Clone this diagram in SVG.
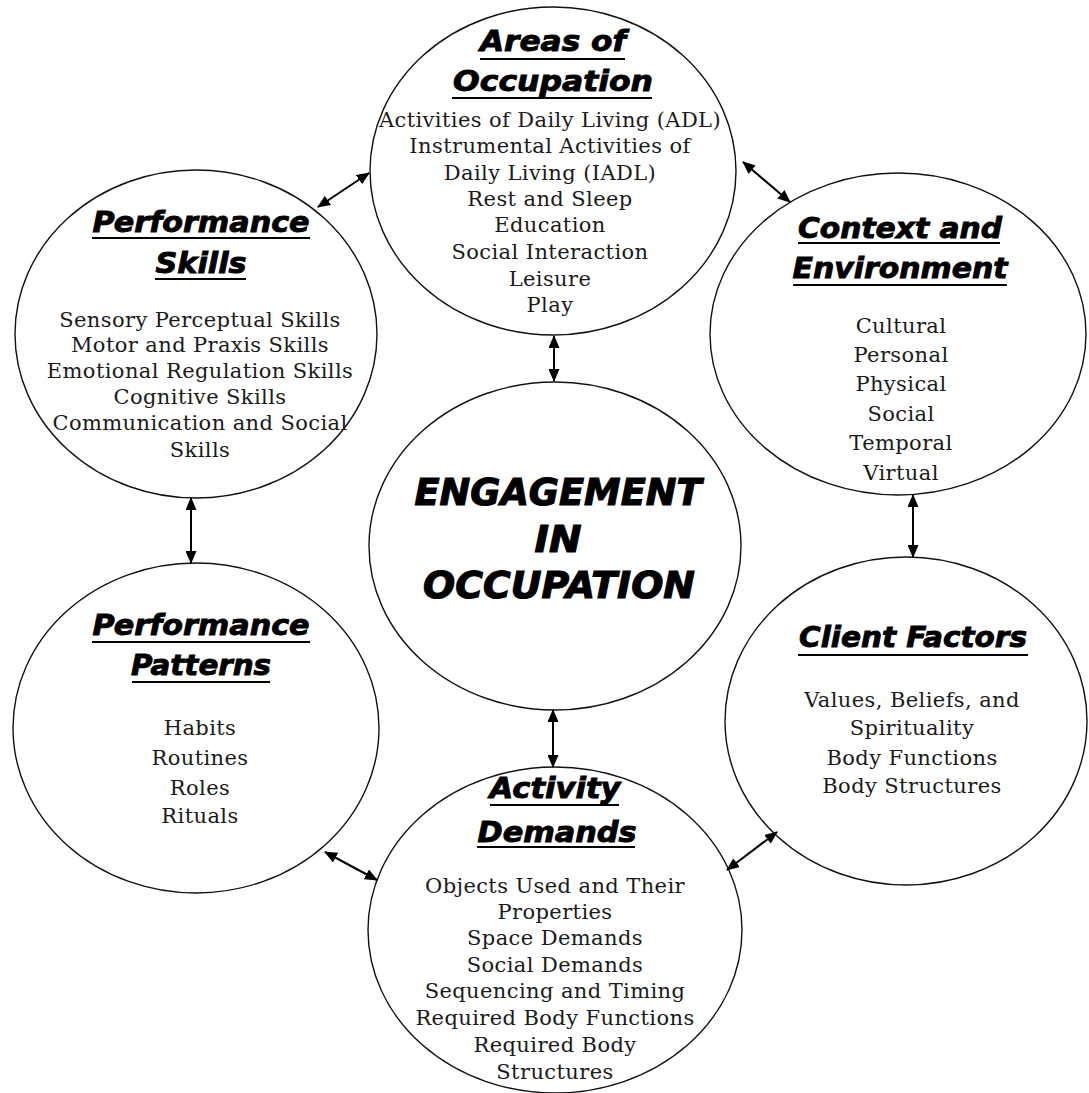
<svg xmlns="http://www.w3.org/2000/svg" width="1089" height="1093" viewBox="0 0 1089 1093">
  <defs>
    <marker id="tip" viewBox="0 0 13 11" refX="12" refY="5.5" markerWidth="13" markerHeight="11" markerUnits="userSpaceOnUse" orient="auto-start-reverse">
      <path d="M0,0 L13,5.5 L0,11 z" fill="#000"/>
    </marker>
    <style>
      .ring { fill: #fff; stroke: #111; stroke-width: 1.4; }
      .head { font-family: "DejaVu Sans", "Liberation Sans", sans-serif; font-weight: bold; font-style: italic; font-size: 28px; fill: #000; stroke: #000; stroke-width: 0.9; text-anchor: middle; }
      .core { font-family: "DejaVu Sans", "Liberation Sans", sans-serif; font-weight: bold; font-style: italic; font-size: 38px; fill: #000; stroke: #000; stroke-width: 1.2; text-anchor: middle; }
      .rule { stroke: #000; stroke-width: 2; }
      .item { font-family: "DejaVu Serif", "Liberation Serif", serif; font-size: 21px; letter-spacing: 0.4px; fill: #1a1a1a; text-anchor: middle; }
      .link { stroke: #000; stroke-width: 2; fill: none; marker-start: url(#tip); marker-end: url(#tip); }
    </style>
  </defs>

  <rect width="1089" height="1093" fill="#fff"/>

  <!-- Areas of Occupation -->
  <g id="areas-of-occupation">
    <ellipse class="ring" cx="553" cy="171" rx="183" ry="164"/>
    <text class="head" x="553" y="51" textLength="146" lengthAdjust="spacingAndGlyphs">Areas of</text>
    <line class="rule" x1="480" y1="59" x2="625" y2="59"/>
    <text class="head" x="553" y="91" textLength="200" lengthAdjust="spacingAndGlyphs">Occupation</text>
    <line class="rule" x1="452" y1="98" x2="652" y2="98"/>
    <text class="item" x="550" y="127">Activities of Daily Living (ADL)</text>
    <text class="item" x="550" y="153">Instrumental Activities of</text>
    <text class="item" x="550" y="180">Daily Living (IADL)</text>
    <text class="item" x="550" y="206">Rest and Sleep</text>
    <text class="item" x="550" y="232">Education</text>
    <text class="item" x="550" y="259">Social Interaction</text>
    <text class="item" x="550" y="286">Leisure</text>
    <text class="item" x="550" y="312">Play</text>
  </g>

  <!-- Performance Skills -->
  <g id="performance-skills">
    <ellipse class="ring" cx="196" cy="334" rx="181" ry="164"/>
    <text class="head" x="201" y="232" textLength="217" lengthAdjust="spacingAndGlyphs">Performance</text>
    <line class="rule" x1="92" y1="238" x2="310" y2="238"/>
    <text class="head" x="201" y="273" textLength="91" lengthAdjust="spacingAndGlyphs">Skills</text>
    <line class="rule" x1="155" y1="279" x2="246" y2="279"/>
    <text class="item" x="200" y="327">Sensory Perceptual Skills</text>
    <text class="item" x="200" y="352">Motor and Praxis Skills</text>
    <text class="item" x="200" y="378">Emotional Regulation Skills</text>
    <text class="item" x="200" y="404">Cognitive Skills</text>
    <text class="item" x="200" y="430">Communication and Social</text>
    <text class="item" x="200" y="457">Skills</text>
  </g>

  <!-- Context and Environment -->
  <g id="context-and-environment">
    <ellipse class="ring" cx="898" cy="334" rx="188" ry="161"/>
    <text class="head" x="900" y="238" textLength="204" lengthAdjust="spacingAndGlyphs">Context and</text>
    <line class="rule" x1="798" y1="243" x2="1000" y2="243"/>
    <text class="head" x="900" y="278" textLength="215" lengthAdjust="spacingAndGlyphs">Environment</text>
    <line class="rule" x1="793" y1="285" x2="1007" y2="285"/>
    <text class="item" x="901" y="333">Cultural</text>
    <text class="item" x="901" y="362">Personal</text>
    <text class="item" x="901" y="391">Physical</text>
    <text class="item" x="901" y="421">Social</text>
    <text class="item" x="901" y="450">Temporal</text>
    <text class="item" x="901" y="480">Virtual</text>
  </g>

  <!-- Engagement in Occupation -->
  <g id="engagement-in-occupation">
    <ellipse class="ring" cx="555" cy="546" rx="186" ry="164"/>
    <text class="core" x="558" y="505" textLength="287" lengthAdjust="spacingAndGlyphs">ENGAGEMENT</text>
    <text class="core" x="558" y="552" textLength="47" lengthAdjust="spacingAndGlyphs">IN</text>
    <text class="core" x="559" y="598" textLength="272" lengthAdjust="spacingAndGlyphs">OCCUPATION</text>
  </g>

  <!-- Performance Patterns -->
  <g id="performance-patterns">
    <ellipse class="ring" cx="196" cy="728" rx="183" ry="165"/>
    <text class="head" x="201" y="635" textLength="217" lengthAdjust="spacingAndGlyphs">Performance</text>
    <line class="rule" x1="92" y1="642" x2="310" y2="642"/>
    <text class="head" x="201" y="675" textLength="140" lengthAdjust="spacingAndGlyphs">Patterns</text>
    <line class="rule" x1="132" y1="682" x2="270" y2="682"/>
    <text class="item" x="200" y="735">Habits</text>
    <text class="item" x="200" y="765">Routines</text>
    <text class="item" x="200" y="795">Roles</text>
    <text class="item" x="200" y="823">Rituals</text>
  </g>

  <!-- Client Factors -->
  <g id="client-factors">
    <ellipse class="ring" cx="906" cy="721" rx="181" ry="164"/>
    <text class="head" x="913" y="647" textLength="228" lengthAdjust="spacingAndGlyphs">Client Factors</text>
    <line class="rule" x1="798" y1="655" x2="1028" y2="655"/>
    <text class="item" x="912" y="707">Values, Beliefs, and</text>
    <text class="item" x="912" y="735">Spirituality</text>
    <text class="item" x="912" y="765">Body Functions</text>
    <text class="item" x="912" y="793">Body Structures</text>
  </g>

  <!-- Activity Demands -->
  <g id="activity-demands">
    <ellipse class="ring" cx="555" cy="930" rx="187" ry="163"/>
    <text class="head" x="555" y="798" textLength="131" lengthAdjust="spacingAndGlyphs">Activity</text>
    <line class="rule" x1="490" y1="805" x2="619" y2="805"/>
    <text class="head" x="557" y="842" textLength="159" lengthAdjust="spacingAndGlyphs">Demands</text>
    <line class="rule" x1="477" y1="847" x2="635" y2="847"/>
    <text class="item" x="555" y="893">Objects Used and Their</text>
    <text class="item" x="555" y="919">Properties</text>
    <text class="item" x="555" y="945">Space Demands</text>
    <text class="item" x="555" y="972">Social Demands</text>
    <text class="item" x="555" y="998">Sequencing and Timing</text>
    <text class="item" x="555" y="1025">Required Body Functions</text>
    <text class="item" x="555" y="1052">Required Body</text>
    <text class="item" x="555" y="1079">Structures</text>
  </g>

  <!-- Two-way connectors between the rings -->
  <g id="connectors">
    <line class="link" x1="318" y1="207" x2="369" y2="173"/>
    <line class="link" x1="743" y1="162" x2="790" y2="202"/>
    <line class="link" x1="554" y1="336" x2="554" y2="381"/>
    <line class="link" x1="191" y1="498" x2="191" y2="563"/>
    <line class="link" x1="913" y1="495" x2="913" y2="557"/>
    <line class="link" x1="553" y1="710" x2="553" y2="767"/>
    <line class="link" x1="325" y1="852" x2="377" y2="880"/>
    <line class="link" x1="777" y1="832" x2="727" y2="870"/>
  </g>
</svg>
